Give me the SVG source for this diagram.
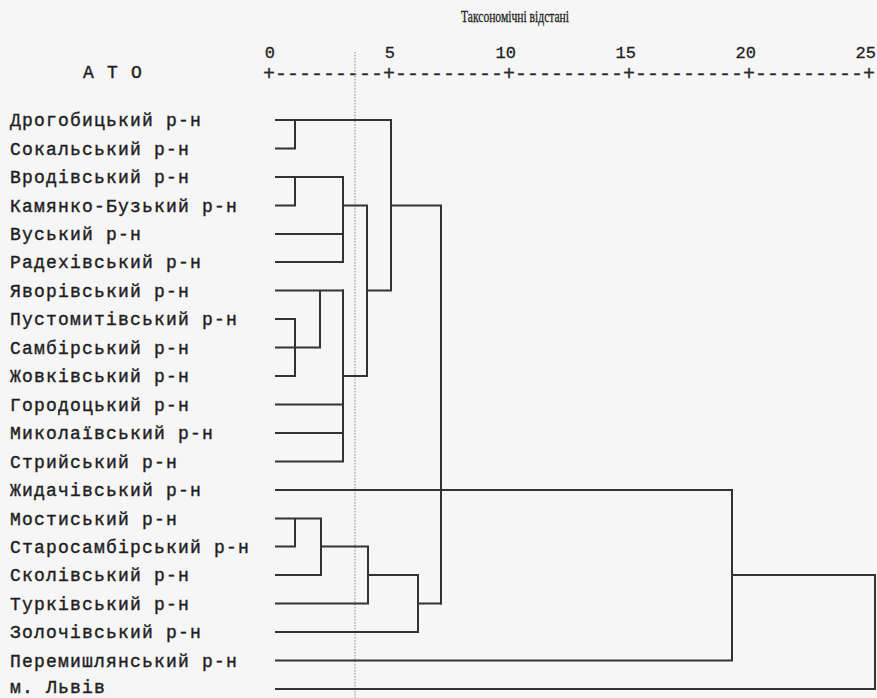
<svg xmlns="http://www.w3.org/2000/svg" width="877" height="698" viewBox="0 0 877 698">
<style>
.lbl{font-family:"Liberation Mono","DejaVu Sans Mono",monospace;font-size:18px;letter-spacing:1.2px;fill:#1e1e1e;stroke:#1e1e1e;stroke-width:0.4px}
.num{font-family:"Liberation Mono","DejaVu Sans Mono",monospace;font-size:17px;fill:#222;stroke:#222;stroke-width:0.3px;text-anchor:end}
.rul{font-family:"Liberation Mono","DejaVu Sans Mono",monospace;font-size:20px;fill:#2a2a2a;stroke:#2a2a2a;stroke-width:0.3px}
.ttl{font-family:"Liberation Serif","Times New Roman",serif;font-size:16px;fill:#1e1e1e;stroke:#1e1e1e;stroke-width:0.3px}
.ln{stroke:#333;stroke-width:2;fill:none;stroke-linecap:square}
.dot{stroke:#8a8a8a;stroke-width:1;stroke-dasharray:1.5 1.5;fill:none}
</style>
<rect x="0" y="0" width="877" height="698" fill="#f6f6f6"/>
<g id="axis">
<text class="ttl" x="461" y="22" textLength="108" lengthAdjust="spacingAndGlyphs">Таксономічні відстані</text>
<text class="num" x="275" y="58">0</text>
<text class="num" x="395" y="58">5</text>
<text class="num" x="516" y="58">10</text>
<text class="num" x="636" y="58">15</text>
<text class="num" x="756" y="58">20</text>
<text class="num" x="876" y="58">25</text>
<text class="rul" x="263" y="80" textLength="612" lengthAdjust="spacing">+---------+---------+---------+---------+---------+</text>
<text class="lbl" x="83" y="78">А Т О</text>
</g>
<line class="dot" x1="355" y1="52" x2="355" y2="698"/>
<g id="n1"><text class="lbl" x="10" y="126">Дрогобицький р-н</text></g>
<g id="n2"><text class="lbl" x="10" y="154.5">Сокальський р-н</text></g>
<g id="n3"><text class="lbl" x="10" y="183">Вродівський р-н</text></g>
<g id="n4"><text class="lbl" x="10" y="211.5">Камянко-Бузький р-н</text></g>
<g id="n5"><text class="lbl" x="10" y="240">Вуський р-н</text></g>
<g id="n6"><text class="lbl" x="10" y="268">Радехівський р-н</text></g>
<g id="n7"><text class="lbl" x="10" y="296.5">Яворівський р-н</text></g>
<g id="n8"><text class="lbl" x="10" y="325">Пустомитівський р-н</text></g>
<g id="n9"><text class="lbl" x="10" y="353.5">Самбірський р-н</text></g>
<g id="n10"><text class="lbl" x="10" y="382">Жовківський р-н</text></g>
<g id="n11"><text class="lbl" x="10" y="410.5">Городоцький р-н</text></g>
<g id="n12"><text class="lbl" x="10" y="439">Миколаївський р-н</text></g>
<g id="n13"><text class="lbl" x="10" y="467.5">Стрийський р-н</text></g>
<g id="n14"><text class="lbl" x="10" y="496">Жидачівський р-н</text></g>
<g id="n15"><text class="lbl" x="10" y="524.5">Мостиський р-н</text></g>
<g id="n16"><text class="lbl" x="10" y="553">Старосамбірський р-н</text></g>
<g id="n17"><text class="lbl" x="10" y="581">Сколівський р-н</text></g>
<g id="n18"><text class="lbl" x="10" y="609.5">Турківський р-н</text></g>
<g id="n19"><text class="lbl" x="10" y="638">Золочівський р-н</text></g>
<g id="n20"><text class="lbl" x="10" y="666.5">Перемишлянський р-н</text></g>
<g id="n21"><text class="lbl" x="10" y="693">м. Львів</text></g>
<g id="connectors" class="ln">
<path class="ln" d="M276 120H391M276 148.5H295M295 120V148.5"/>
<path class="ln" d="M276 177H343M276 205.5H295M295 177V205.5M276 234H343M276 262H343M343 177V262"/>
<path class="ln" d="M343 205.5H367M367 205.5V376"/>
<path class="ln" d="M276 290.5H343M276 319H295M276 347.5H320M276 376H295M295 319V376M320 290.5V347.5"/>
<path class="ln" d="M276 404.5H343M276 433H343M276 461.5H343M343 290.5V461.5M343 376H367"/>
<path class="ln" d="M367 290.5H391M391 120V290.5M391 205.5H441M441 205.5V603.5"/>
<path class="ln" d="M276 490H732"/>
<path class="ln" d="M276 518.5H321M276 546.5H295M295 518.5V546.5M321 518.5V575M276 575H321M321 546.5H368M368 546.5V603.5M276 603.5H368M368 575H418M418 575V632M276 632H418M418 603.5H441"/>
<path class="ln" d="M732 490V660.5M276 660.5H732M732 575H875M875 575V689M276 689H875"/>
</g>
</svg>
